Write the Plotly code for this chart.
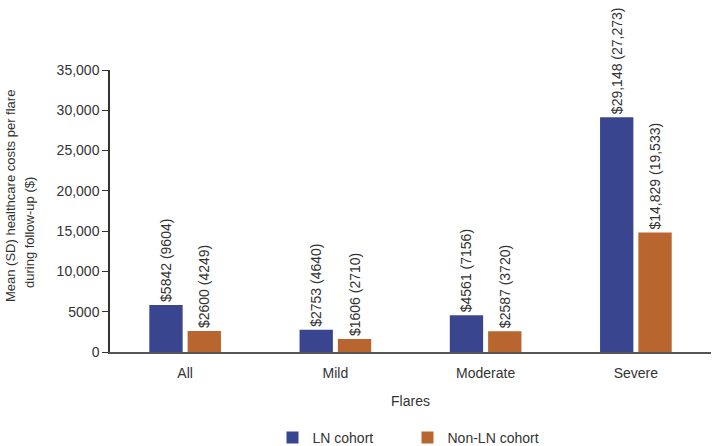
import plotly.graph_objects as go

categories = ["All", "Mild", "Moderate", "Severe"]
ln_means = [5842, 2753, 4561, 29148]
ln_labels = ["$5842 (9604)", "$2753 (4640)", "$4561 (7156)", "$29,148 (27,273)"]
non_means = [2600, 1606, 2587, 14829]
non_labels = ["$2600 (4249)", "$1606 (2710)", "$2587 (3720)", "$14,829 (19,533)"]
tick_vals = [0, 5000, 10000, 15000, 20000, 25000, 30000, 35000]
tick_text = ["0", "5000", "10,000", "15,000", "20,000", "25,000", "30,000", "35,000"]
y_title_lines = ["Mean (SD) healthcare costs per flare", "during follow-up ($)"]

FAM = "Liberation Sans, Arial, sans-serif"
font = dict(family=FAM, size=14, color="#333333")
PAD = "\u00a0\u00a0"

fig = go.Figure()
fig.add_trace(go.Bar(x=categories, y=ln_means, name="LN cohort",
                     text=[t + PAD for t in ln_labels],
                     textposition="outside", textangle=-90, cliponaxis=False,
                     marker=dict(color="#3A4590", line=dict(width=0)),
                     textfont=font))
fig.add_trace(go.Bar(x=categories, y=non_means, name="Non-LN cohort",
                     text=[t + PAD for t in non_labels],
                     textposition="outside", textangle=-90, cliponaxis=False,
                     marker=dict(color="#B9652F", line=dict(width=0)),
                     textfont=font))

# y-axis title as two separately placed lines
fig.add_annotation(text=y_title_lines[0], xref="paper", yref="paper", x=0, xshift=-100,
                   xanchor="center", yanchor="middle",
                   y=0.553, textangle=-90, showarrow=False,
                   font=dict(family=FAM, size=13, color="#333333"))
fig.add_annotation(text=y_title_lines[1], xref="paper", yref="paper", x=0, xshift=-80,
                   xanchor="center", yanchor="middle",
                   y=0.422, textangle=-90, showarrow=False,
                   font=dict(family=FAM, size=13, color="#333333"))

fig.update_layout(
    width=713, height=446,
    margin=dict(l=110, r=2, t=70, b=94, autoexpand=False),
    paper_bgcolor="white", plot_bgcolor="white",
    font=font,
    uniformtext=dict(minsize=14, mode="show"),
    barmode="group", bargap=0.49, bargroupgap=0.13,
    showlegend=True,
    legend=dict(orientation="h", x=0.495, xanchor="center", xref="paper",
                y=0.018, yanchor="middle", yref="container",
                font=font, itemwidth=30, entrywidth=90, traceorder="normal"),
    xaxis=dict(showline=True, linecolor="#555555", linewidth=1.5, ticks="",
               ticklabelstandoff=7, automargin=False,
               title=dict(text="Flares", font=font, standoff=17), showgrid=False),
    yaxis=dict(range=[0, 35000], tickvals=tick_vals, ticktext=tick_text,
               automargin=False,
               showline=True, linecolor="#333333", linewidth=1.5, ticks="outside",
               ticklen=6, tickcolor="#333333", showgrid=False, zeroline=False),
)
fig.write_html("out.html", config={"displayModeBar": False},
               post_script="document.body.style.margin='0';")
